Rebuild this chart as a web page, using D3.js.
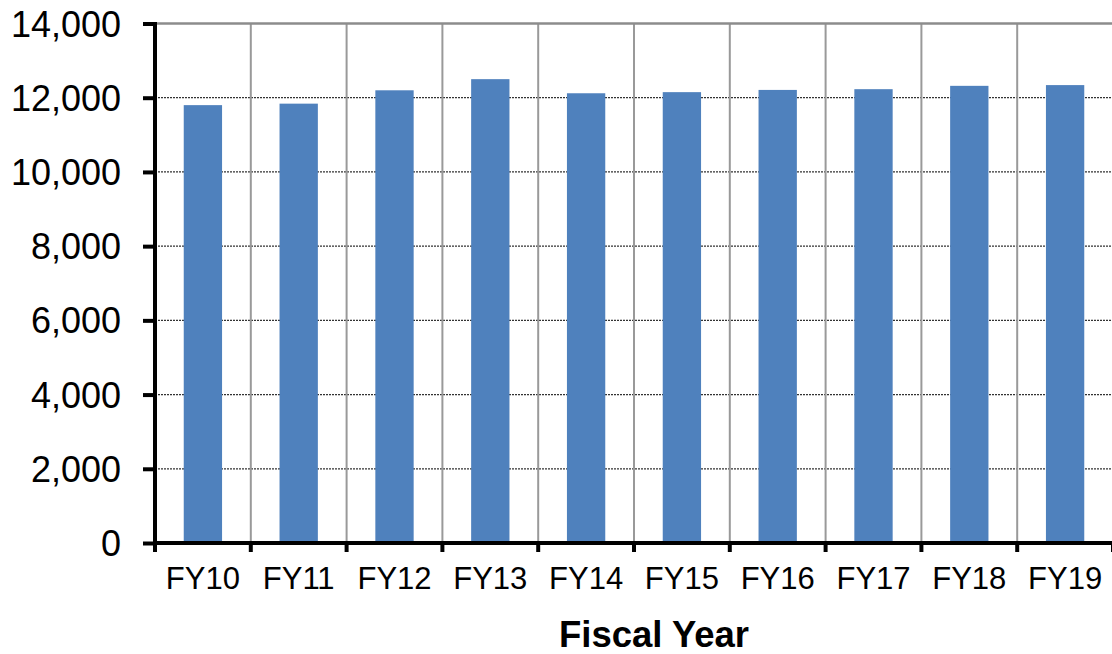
<!DOCTYPE html>
<html>
<head>
<meta charset="utf-8">
<script src="https://cdn.jsdelivr.net/npm/d3@7/dist/d3.min.js"></script>
<style>
  html, body { margin: 0; padding: 0; background: #fff; }
  svg { display: block; }
  text { font-family: "Liberation Sans", Arial, sans-serif; fill: #000; }
</style>
</head>
<body>
<svg id="chart" width="1112" height="654"></svg>
<script>
// ---- data ----
const categories = ["FY10", "FY11", "FY12", "FY13", "FY14", "FY15", "FY16", "FY17", "FY18", "FY19"];
const values = [11800, 11840, 12200, 12500, 12120, 12150, 12210, 12230, 12320, 12340];
const yTicks = [0, 2000, 4000, 6000, 8000, 10000, 12000, 14000];
const axisTitle = "Fiscal Year";

// ---- layout ----
const svg = d3.select("#chart");
const plotLeft = 155, plotRight = 1113, plotTop = 23.5, plotBottom = 543;

const x = d3.scaleBand().domain(categories).range([plotLeft, plotRight]).padding(0);
const y = d3.scaleLinear().domain([0, 14000]).range([plotBottom, plotTop]);
const step = x.step();
const barW = step * 0.4;
const fmt = d3.format(",");

// horizontal dotted gridlines
svg.append("g").selectAll("line")
  .data(yTicks.filter(d => d > 0 && d < 14000))
  .join("line")
  .attr("x1", plotLeft).attr("x2", plotRight)
  .attr("y1", d => y(d)).attr("y2", d => y(d))
  .attr("stroke", "#333").attr("stroke-width", 1.2)
  .attr("stroke-dasharray", "2,1");

// vertical gridlines at category boundaries
const bounds = d3.range(1, categories.length + 1).map(i => plotLeft + i * step);
svg.append("g").selectAll("line")
  .data(bounds)
  .join("line")
  .attr("x1", d => d).attr("x2", d => d)
  .attr("y1", plotTop).attr("y2", plotBottom)
  .attr("stroke", "#999").attr("stroke-width", 2);

// top border
svg.append("line")
  .attr("x1", plotLeft).attr("x2", plotRight)
  .attr("y1", y(14000)).attr("y2", y(14000))
  .attr("stroke", "#8c8c8c").attr("stroke-width", 2.5);

// bars
svg.append("g").selectAll("rect")
  .data(values)
  .join("rect")
  .attr("x", (d, i) => x(categories[i]) + (step - barW) / 2)
  .attr("width", barW)
  .attr("y", d => y(d))
  .attr("height", d => y(0) - y(d))
  .attr("fill", "#4F81BD");

// y axis
const yAxis = d3.axisLeft(y).tickValues(yTicks).tickFormat(fmt).tickSize(12).tickPadding(22);
const gy = svg.append("g").attr("transform", `translate(${plotLeft},0)`).call(yAxis);
gy.select(".domain").remove();
gy.selectAll(".tick line").attr("stroke", "#000").attr("stroke-width", 4);
gy.selectAll(".tick text").style("font-size", "36px").attr("dy", "0.35em");
svg.append("line")
  .attr("x1", plotLeft).attr("x2", plotLeft)
  .attr("y1", plotTop - 1.5).attr("y2", plotBottom + 2)
  .attr("stroke", "#000").attr("stroke-width", 4);

// x axis labels
const xAxis = d3.axisBottom(x).tickSize(0).tickPadding(24);
const gx = svg.append("g").attr("transform", `translate(0,${plotBottom})`).call(xAxis);
gx.select(".domain").remove();
gx.selectAll(".tick text").style("font-size", "31px");

// x axis line and boundary ticks
svg.append("line")
  .attr("x1", plotLeft - 2).attr("x2", plotRight)
  .attr("y1", plotBottom).attr("y2", plotBottom)
  .attr("stroke", "#000").attr("stroke-width", 4);
svg.append("g").selectAll("line")
  .data([plotLeft].concat(bounds))
  .join("line")
  .attr("x1", d => d).attr("x2", d => d)
  .attr("y1", plotBottom).attr("y2", plotBottom + 9)
  .attr("stroke", "#000").attr("stroke-width", 4);

// axis title
svg.append("text")
  .attr("x", 654).attr("y", 647)
  .attr("text-anchor", "middle")
  .style("font-size", "36.5px").style("font-weight", "bold")
  .text(axisTitle);
</script>
</body>
</html>
